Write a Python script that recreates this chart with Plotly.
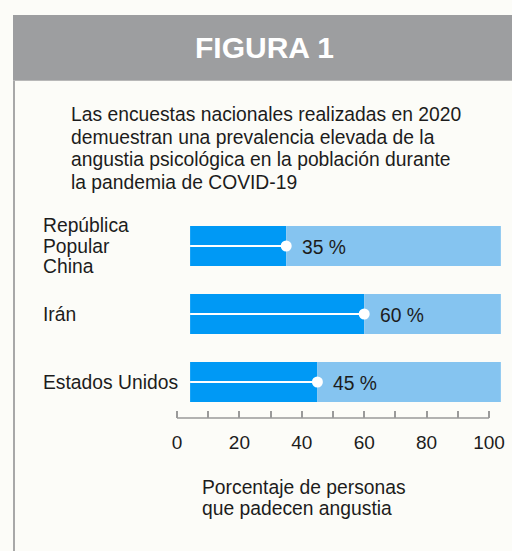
import plotly.graph_objects as go

# ---------------- data ----------------
categories = ["República<br>Popular<br>China", "Irán", "Estados Unidos"]
values = [35, 60, 45]
value_labels = ["35 %", "60 %", "45 %"]
tick_values = [0, 10, 20, 30, 40, 50, 60, 70, 80, 90, 100]
tick_labels = ["0", "", "20", "", "40", "", "60", "", "80", "", "100"]

title_text = "FIGURA 1"
subtitle_lines = ["Las encuestas nacionales realizadas en 2020",
                  "demuestran una prevalencia elevada de la",
                  "angustia psicológica en la población durante",
                  "la pandemia de COVID-19"]
axis_title_lines = ["Porcentaje de personas", "que padecen angustia"]

# ---------------- style ----------------
W, H = 512, 551
FONT = "Liberation Sans, Arial, sans-serif"
DARK = "#0099f5"
LIGHT = "#85c4f0"
BG = "#fcfcf8"
TXT = "#1c1c1c"
BODY = 19.3
BAR_START, BAR_END = 4.2, 103.8   # visual extent of the pill bars

X0_PX, X100_PX = 177, 489
ppu = (X100_PX - X0_PX) / 100.0
x_range = [-X0_PX / ppu, (W - X0_PX) / ppu]


def py(px):
    return 1 - px / H


AXIS_PX = 418
ROW0_PX, ROW_STEP = 246, 68
y_top_px = 210
n = len(categories)
y_range = [n - 1 + (AXIS_PX - (ROW0_PX + ROW_STEP * (n - 1))) / ROW_STEP,
           -(ROW0_PX - y_top_px) / ROW_STEP]

idx = list(range(n))

fig = go.Figure()
bar_w = 40 / ROW_STEP
fig.add_trace(go.Bar(y=idx, x=[v - BAR_START for v in values], base=[BAR_START] * n,
                     orientation="h", marker=dict(color=DARK, line=dict(width=0)),
                     width=bar_w, hoverinfo="skip"))
fig.add_trace(go.Bar(y=idx, x=[BAR_END - v for v in values], base=values,
                     orientation="h", marker=dict(color=LIGHT, line=dict(width=0)),
                     width=bar_w, hoverinfo="skip"))
for i, v in zip(idx, values):
    fig.add_trace(go.Scatter(x=[BAR_START, v], y=[i, i], mode="lines",
                             line=dict(color="white", width=2), hoverinfo="skip"))
fig.add_trace(go.Scatter(x=values, y=idx, mode="markers",
                         marker=dict(color="white", size=11, line=dict(width=0)),
                         hoverinfo="skip"))

annotations = []
for i, v, lab in zip(idx, values, value_labels):
    annotations.append(dict(x=v, y=i, xref="x", yref="y", text=lab, showarrow=False,
                            xanchor="left", yanchor="middle", xshift=14, yshift=-1,
                            font=dict(family=FONT, size=BODY, color=TXT)))

# category labels, left aligned, one annotation per text line
CAT_SPACING = 20.3
for i, cat in zip(idx, categories):
    lines = cat.split("<br>")
    m = len(lines)
    for k, line in enumerate(lines):
        annotations.append(dict(x=41 / W, y=i, xref="paper", yref="y", text=line, showarrow=False,
                                xanchor="left", yanchor="middle",
                                yshift=-((k - (m - 1) / 2) * CAT_SPACING),
                                font=dict(family=FONT, size=BODY, color=TXT)))

annotations.append(dict(x=264 / W, y=py(47), xref="paper", yref="paper", text="<b>" + title_text + "</b>",
                        showarrow=False, xanchor="center", yanchor="middle",
                        font=dict(family=FONT, size=30, color="white")))

for k, line in enumerate(subtitle_lines):
    annotations.append(dict(x=69 / W, y=py(115 + k * 22.4), xref="paper", yref="paper", text=line,
                            showarrow=False, xanchor="left", yanchor="middle",
                            font=dict(family=FONT, size=BODY, color=TXT)))
for k, line in enumerate(axis_title_lines):
    annotations.append(dict(x=200 / W, y=py(487 + k * 21.5), xref="paper", yref="paper", text=line,
                            showarrow=False, xanchor="left", yanchor="middle",
                            font=dict(family=FONT, size=BODY, color=TXT)))

shapes = [
    dict(type="rect", xref="paper", yref="paper", x0=13 / W, x1=1, y0=py(80), y1=py(15),
         fillcolor="#9d9ea0", line=dict(width=0), layer="below"),
    dict(type="line", xref="paper", yref="paper", x0=14 / W, x1=14 / W, y0=0, y1=py(80),
         line=dict(color="#a8a8a8", width=2)),
    dict(type="line", xref="paper", yref="paper", x0=13 / W, x1=1, y0=py(80.5), y1=py(80.5),
         line=dict(color="#b8b8b8", width=1)),
    dict(type="line", xref="x", yref="y domain", x0=tick_values[0], x1=tick_values[-1], y0=0, y1=0,
         line=dict(color="#9a9a9a", width=1.5)),
]

fig.update_layout(
    width=W, height=H, margin=dict(l=0, r=0, t=0, b=0),
    paper_bgcolor=BG, plot_bgcolor="rgba(0,0,0,0)",
    barmode="overlay", showlegend=False,
    font=dict(family=FONT, color=TXT),
    annotations=annotations, shapes=shapes,
    xaxis=dict(domain=[0, 1], range=x_range, showgrid=False, zeroline=False, showline=False,
               tickmode="array", tickvals=tick_values, ticktext=tick_labels,
               ticks="inside", ticklen=7, tickwidth=1.5, tickcolor="#9a9a9a",
               tickfont=dict(family=FONT, size=19, color=TXT), ticklabelstandoff=11,
               fixedrange=True),
    yaxis=dict(domain=[py(AXIS_PX), py(y_top_px)], range=y_range, showgrid=False, zeroline=False,
               showline=False, showticklabels=False, ticks="", fixedrange=True),
)

fig.write_html("out.html", config={"displayModeBar": False},
               post_script="document.body.style.margin='0';document.body.style.overflow='hidden';"
                           "document.body.style.background='" + BG + "';")
